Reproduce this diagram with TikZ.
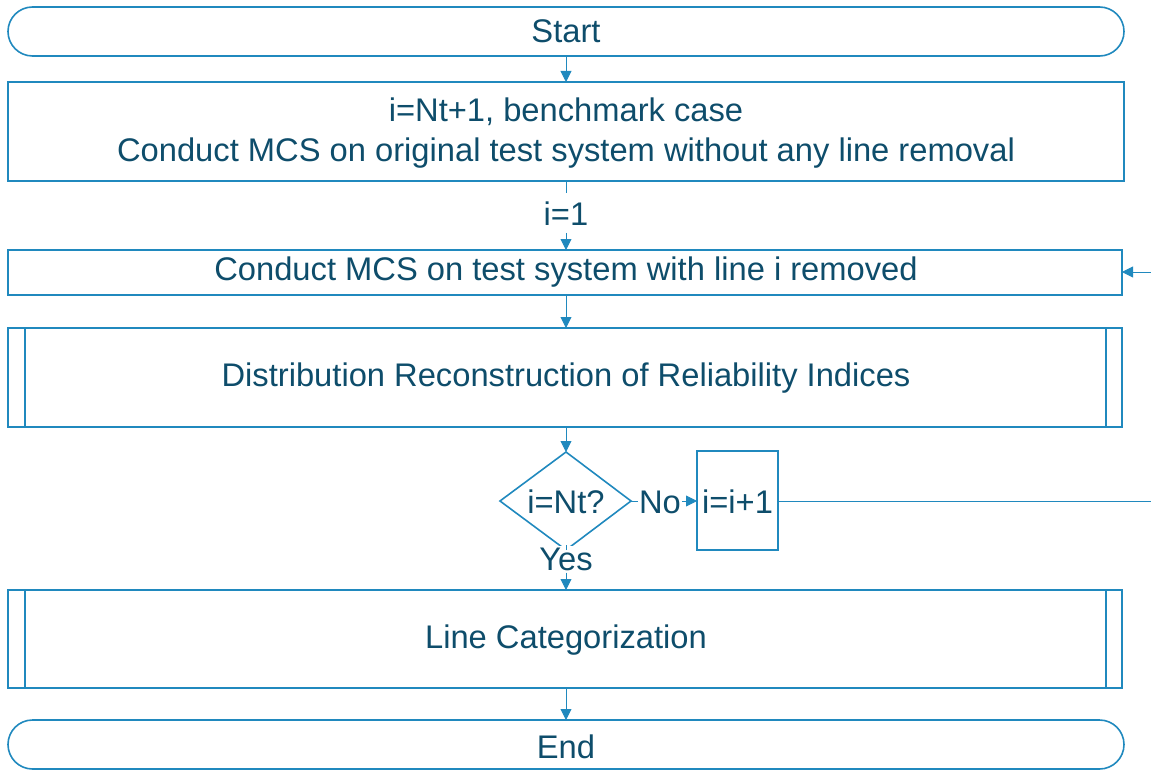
\documentclass[tikz,border=0pt]{standalone}
\usepackage{fontspec}
\setmainfont{Liberation Sans}
\usetikzlibrary{shapes.geometric,arrows.meta,calc}
\definecolor{strk}{HTML}{2089BE}
\definecolor{txt}{HTML}{0E4D6B}
\tikzset{
  every node/.style={text=txt, font=\fontsize{32.7}{40}\selectfont, inner sep=0pt},
  boxstyle/.style={draw=strk, line width=1.6pt, rectangle},
  conn/.style={draw=strk, line width=0.9pt, -{Triangle[length=11pt,width=11pt]}},
  plain/.style={draw=strk, line width=0.9pt},
}
\begin{document}
\begin{tikzpicture}[x=1pt,y=-1pt]
\useasboundingbox (0,0) rectangle (1151,770);
\draw[strk, line width=1.6pt, rounded corners=24.5pt] (8,7) rectangle (1124,56);
\node (start) at (566,31.5) {Start};
\coordinate (startb) at (566,56);

\draw[boxstyle] (8,82) rectangle (1124,181);
\node[align=center, font=\fontsize{32.7}{40}\selectfont] (b1) at (566,133) {i=Nt+1, benchmark case\\Conduct MCS on original test system without any line removal};
\coordinate (b1t) at (566,82);
\coordinate (b1b) at (566,181);

\draw[boxstyle] (8,250) rectangle (1122,295);
\node (b2) at (566,272) {Conduct MCS on test system with line i removed};
\coordinate (b2t) at (566,250);
\coordinate (b2b) at (566,295);
\coordinate (b2r) at (1122,272);

\draw[boxstyle] (8,328) rectangle (1122,427);
\draw[strk, line width=1.6pt] (25,328) -- (25,427) (1106,328) -- (1106,427);
\node (b3) at (566,378) {Distribution Reconstruction of Reliability Indices};
\coordinate (b3t) at (566,328);
\coordinate (b3b) at (566,427);

\draw[strk, line width=1.6pt] (566,452) -- (631,501) -- (566,550) -- (500,501) -- cycle;
\node (dec) at (566,502) {i=Nt?};
\coordinate (dect) at (566,452);
\coordinate (decr) at (631,501);

\node[fill=white, inner sep=1pt] (no) at (660,502) {No};
\draw[boxstyle] (697,451) rectangle (778,550);
\node (inc) at (737.5,502) {i=i+1};
\coordinate (incl) at (697,501);
\coordinate (incr) at (778,501);

\node[fill=white, inner xsep=2pt, inner ysep=2pt] (yes) at (566,559) {Yes};
\coordinate (decb) at (566,550);

\draw[boxstyle] (8,590) rectangle (1122,688);
\draw[strk, line width=1.6pt] (25,590) -- (25,688) (1106,590) -- (1106,688);
\node (b4) at (566,640) {Line Categorization};
\coordinate (b4t) at (566,590);
\coordinate (b4b) at (566,688);

\draw[strk, line width=1.6pt, rounded corners=24.5pt] (8,720) rectangle (1124,769);
\node (endn) at (566,747) {End};
\coordinate (endt) at (566,720);

% connectors
\draw[conn] (startb) -- (b1t);
\draw[plain] (b1b) -- (566,193);
\node[fill=white, inner ysep=3pt] (lbl1) at (566,214) {i=1};
\draw[conn] (566,233) -- (b2t);
\draw[conn] (b2b) -- (b3t);
\draw[conn] (b3b) -- (dect);
\draw[plain] (decr) -- (no.west |- decr);
\draw[conn] (no.east |- incl) -- (incl);
\draw[plain] (decb) -- (yes.north);
\draw[conn] (yes.south) -- (b4t);
\draw[conn] (b4b) -- (endt);
\coordinate (fb1) at (1152,501);
\coordinate (fb2) at (1152,272);
\draw[conn] (incr) -- (fb1) -- (fb2) -- (b2r);
\end{tikzpicture}
\end{document}
